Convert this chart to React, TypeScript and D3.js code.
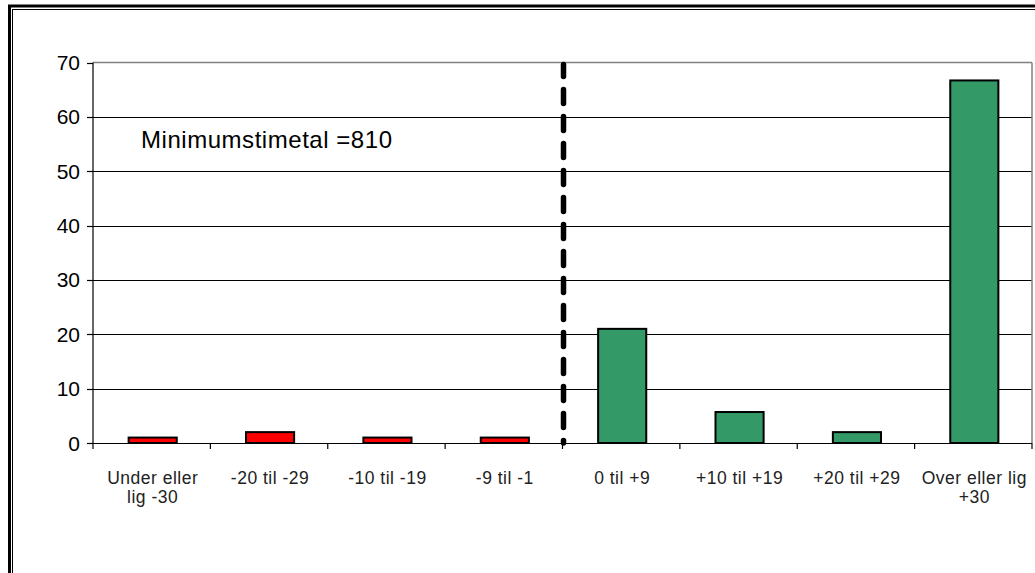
import React from "react";
import * as d3 from "d3";

const categories: string[][] = [
  ["Under eller", "lig -30"],
  ["-20 til -29"],
  ["-10 til -19"],
  ["-9 til -1"],
  ["0 til +9"],
  ["+10 til +19"],
  ["+20 til +29"],
  ["Over eller lig", "+30"],
];
const values: number[] = [1, 2, 1, 1, 21, 5.7, 2, 66.7];
const barColors: string[] = ["#FF0000", "#FF0000", "#FF0000", "#FF0000", "#339966", "#339966", "#339966", "#339966"];
const yTicks: number[] = [0, 10, 20, 30, 40, 50, 60, 70];
const annotation = "Minimumstimetal =810";
const dividerIndex = 4;

const W = 1035;
const H = 573;
const FONT = "'Liberation Sans', Arial, sans-serif";

export default function App() {
  const left = 93;
  const right = 1032;
  const top = 62.5;
  const bottom = 443;

  const ids = categories.map((_, i) => String(i));
  const x = d3
    .scaleBand<string>()
    .domain(ids)
    .range([left, right])
    .paddingInner(0.59)
    .paddingOuter(0.295);
  const step = x.step();
  const y = d3.scaleLinear().domain([0, 70]).range([bottom, top]);

  const boundaries = d3.range(categories.length + 1).map((i) => left + i * step);
  const dividerX = left + dividerIndex * step + 1;

  return (
    <svg
      width={W}
      height={H}
      style={{ position: "absolute", left: 0, top: 0, background: "#fff" }}
      fontFamily={FONT}
    >
      {/* outer double frame */}
      <rect x={9.5} y={6} width={W + 20} height={H + 20} fill="none" stroke="#000" strokeWidth={3} />
      <rect x={12.5} y={9.5} width={W + 20} height={H + 20} fill="none" stroke="#000" strokeWidth={1} />

      {/* gridlines */}
      {yTicks
        .filter((t) => t > 0 && t < 70)
        .map((t) => (
          <line key={"g" + t} x1={left} x2={right} y1={Math.round(y(t)) + 0.5} y2={Math.round(y(t)) + 0.5} stroke="#000" strokeWidth={1.2} />
        ))}
      {/* plot border top/right */}
      <line x1={left} x2={right} y1={top} y2={top} stroke="#808080" strokeWidth={1.5} />
      <line x1={right} x2={right} y1={top} y2={bottom} stroke="#808080" strokeWidth={1.5} />

      {/* bars */}
      {values.map((v, i) => (
        <rect
          key={"b" + i}
          x={x(String(i))! + 1}
          y={y(v)}
          width={x.bandwidth()}
          height={bottom - y(v)}
          fill={barColors[i]}
          stroke="#000"
          strokeWidth={2}
        />
      ))}

      {/* y axis */}
      <line x1={left} x2={left} y1={top} y2={bottom} stroke="#000" strokeWidth={1.2} />
      {yTicks.map((t) => (
        <g key={"yt" + t}>
          <line x1={left - 6} x2={left} y1={Math.round(y(t)) + 0.5} y2={Math.round(y(t)) + 0.5} stroke="#000" strokeWidth={1.2} />
          <text x={80} y={y(t)} dy="0.36em" textAnchor="end" fontSize={21} fill="#000">
            {t}
          </text>
        </g>
      ))}

      {/* x axis */}
      <line x1={left} x2={right} y1={bottom + 0.5} y2={bottom + 0.5} stroke="#000" strokeWidth={1.2} />
      {boundaries.map((bx, i) => (
        <line key={"xt" + i} x1={bx} x2={bx} y1={bottom} y2={bottom + 6} stroke="#000" strokeWidth={1.2} />
      ))}
      {categories.map((lines, i) => (
        <text key={"xl" + i} textAnchor="middle" fontSize={17.5} letterSpacing={0.5} fill="#222">
          {lines.map((ln, j) => (
            <tspan key={j} x={x(String(i))! + x.bandwidth() / 2 + 1} y={484 + j * 19}>
              {ln}
            </tspan>
          ))}
        </text>
      ))}

      {/* dashed divider */}
      <line
        x1={dividerX}
        x2={dividerX}
        y1={top + 2}
        y2={bottom}
        stroke="#000"
        strokeWidth={5.5}
        strokeDasharray="14 13"
        strokeDashoffset={2}
        strokeLinecap="round"
      />

      {/* annotation */}
      <text x={141} y={148} fontSize={24} fill="#000" textLength={251} lengthAdjust="spacing">
        {annotation}
      </text>
    </svg>
  );
}
